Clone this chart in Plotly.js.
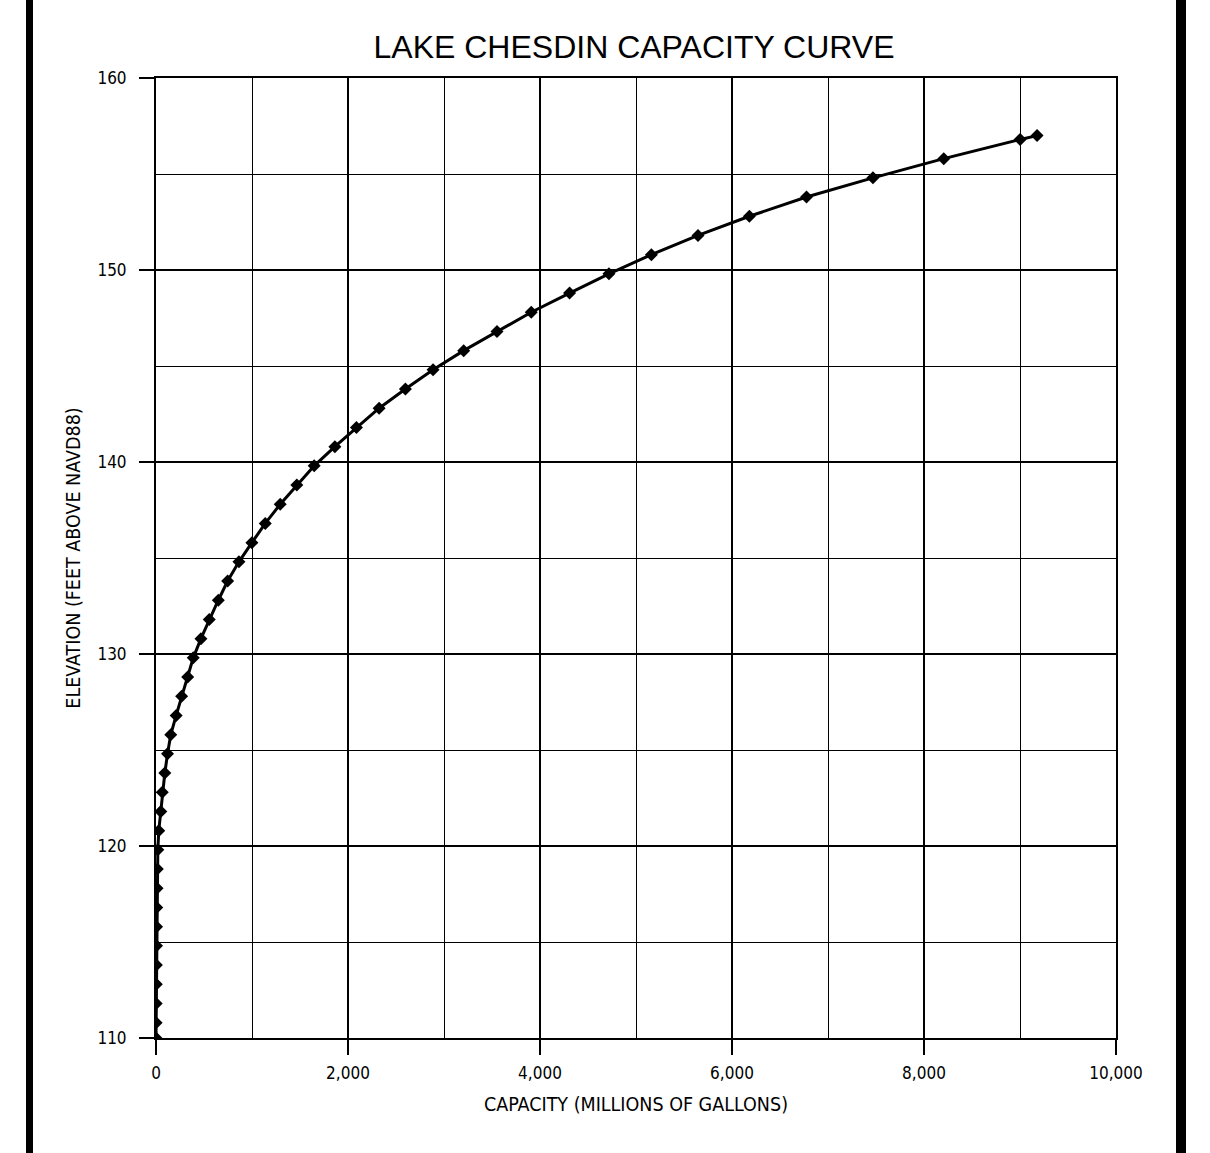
<!DOCTYPE html>
<html>
<head>
<meta charset="utf-8">
<script src="https://cdn.plot.ly/plotly-3.0.1.min.js"></script>
<style>
  html, body { margin: 0; padding: 0; background: #fff; }
  #chart { width: 1210px; height: 1153px; }
</style>
</head>
<body>
<div id="chart"></div>
<script>
// Capacity (millions of gallons) vs elevation (feet above NAVD88)
const elevation = [110, 110.8, 111.8, 112.8, 113.8, 114.8, 115.8, 116.8, 117.8, 118.8,
  119.8, 120.8, 121.8, 122.8, 123.8, 124.8, 125.8, 126.8, 127.8, 128.8,
  129.8, 130.8, 131.8, 132.8, 133.8, 134.8, 135.8, 136.8, 137.8, 138.8,
  139.8, 140.8, 141.8, 142.8, 143.8, 144.8, 145.8, 146.8, 147.8, 148.8,
  149.8, 150.8, 151.8, 152.8, 153.8, 154.8, 155.8, 156.8, 157];
const capacity = [0, 1, 2, 3, 4, 5, 6, 8, 11, 14,
  19, 29, 50, 65, 92, 120, 154, 210, 267, 330,
  388, 468, 555, 649, 746, 864, 999, 1138, 1294, 1467,
  1648, 1863, 2088, 2324, 2598, 2886, 3205, 3552, 3909, 4308,
  4718, 5160, 5646, 6181, 6776, 7468, 8206, 9001, 9178];

const xTickVals = [0, 2000, 4000, 6000, 8000, 10000];
const yTickVals = [110, 120, 130, 140, 150, 160];
const titleText = 'LAKE CHESDIN CAPACITY CURVE';
const xTitle = 'CAPACITY (MILLIONS OF GALLONS)';
const yTitle = 'ELEVATION (FEET ABOVE NAVD88)';

const W = 1210, H = 1153;
const margin = {l: 156, r: 94, t: 78, b: 115};
const pw = W - margin.l - margin.r;
const px = v => (v - margin.l) / pw;

const cadFont = 'DejaVu Sans Condensed, DejaVu Sans, sans-serif';
const tickFont = {family: cadFont, size: 17, color: '#000'};
const axTitleFont = {family: cadFont, size: 19.5, color: '#000'};

const trace = {
  x: capacity,
  y: elevation,
  type: 'scatter',
  mode: 'lines+markers',
  line: {color: '#000', width: 3},
  marker: {symbol: 'diamond', size: 10, color: '#000'},
  hoverinfo: 'x+y'
};

const layout = {
  width: W, height: H,
  margin: margin,
  paper_bgcolor: '#fff',
  plot_bgcolor: '#fff',
  showlegend: false,
  title: {
    text: titleText,
    font: {family: 'Liberation Sans, Arial, sans-serif', size: 32, color: '#000'},
    x: 0.524, xanchor: 'center',
    y: 1 - 47 / H, yanchor: 'middle'
  },
  xaxis: {
    range: [0, 10000],
    tickvals: xTickVals,
    tickformat: ',d',
    ticks: 'outside', ticklen: 15, tickwidth: 2, tickcolor: '#000',
    ticklabelstandoff: 4,
    showline: true, linecolor: '#000', linewidth: 2, mirror: true,
    showgrid: true, gridcolor: '#000', gridwidth: 2,
    minor: {dtick: 1000, showgrid: true, gridcolor: '#000', gridwidth: 1, ticks: ''},
    zeroline: false,
    tickfont: tickFont,
    title: {text: xTitle, font: axTitleFont, standoff: 15}
  },
  yaxis: {
    range: [110, 160],
    tickvals: yTickVals,
    ticks: 'outside', ticklen: 15, tickwidth: 2, tickcolor: '#000',
    ticklabelstandoff: 9,
    showline: true, linecolor: '#000', linewidth: 2, mirror: true,
    showgrid: true, gridcolor: '#000', gridwidth: 2,
    minor: {dtick: 5, showgrid: true, gridcolor: '#000', gridwidth: 1, ticks: ''},
    zeroline: false,
    tickfont: tickFont,
    title: {text: yTitle, font: axTitleFont, standoff: 12}
  },
  shapes: [
    {type: 'rect', xref: 'paper', yref: 'paper', x0: px(26), x1: px(33), y0: -1, y1: 2,
     fillcolor: '#000', line: {width: 0}},
    {type: 'rect', xref: 'paper', yref: 'paper', x0: px(1176), x1: px(1186), y0: -1, y1: 2,
     fillcolor: '#000', line: {width: 0}}
  ]
};

Plotly.newPlot('chart', [trace], layout, {displayModeBar: false, staticPlot: true});
</script>
</body>
</html>
